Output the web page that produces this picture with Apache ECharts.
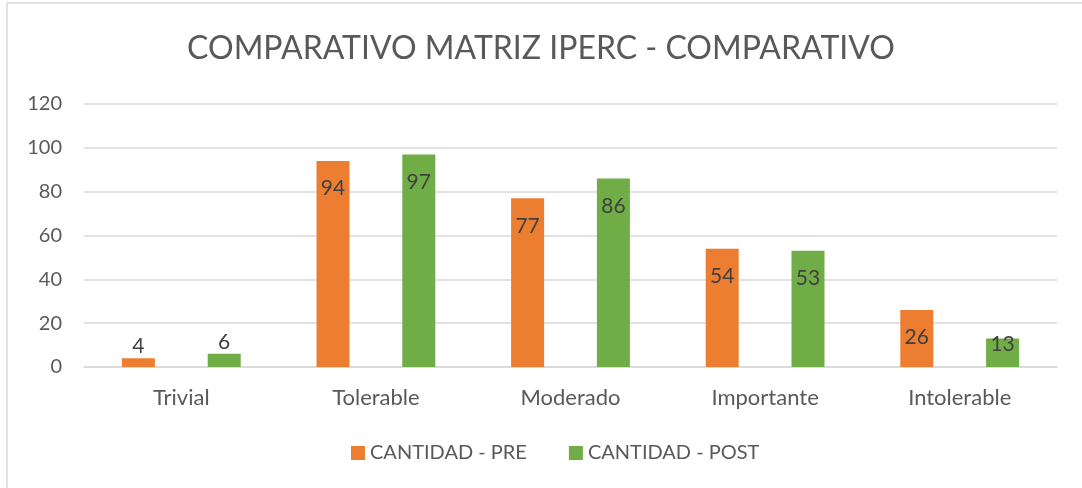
<!DOCTYPE html>
<html>
<head>
<meta charset="utf-8">
<script src="https://cdn.jsdelivr.net/npm/echarts@6/dist/echarts.min.js"></script>
<style>
  html,body{margin:0;padding:0;background:#fff;}
  #chart{width:1082px;height:488px;}
</style>
</head>
<body>
<div id="chart"></div>
<script>
var categories = ['Trivial', 'Tolerable', 'Moderado', 'Importante', 'Intolerable'];
var pre = [4, 94, 77, 54, 26];
var post = [6, 97, 86, 53, 13];
var seriesNames = ['CANTIDAD - PRE', 'CANTIDAD - POST'];

// small values get the label above the bar, like excel does
function toData(arr) {
  return arr.map(function (v) {
    if (v < 10) return { value: v, label: { position: 'top', distance: 1 } };
    if (v < 20) return { value: v, label: { position: 'top', distance: -16 } };
    return v;
  });
}

var myChart = echarts.init(document.getElementById('chart'));
var option = {
  backgroundColor: '#fff',
  textStyle: { fontFamily: 'Lato, sans-serif' },
  title: {
    text: 'COMPARATIVO MATRIZ IPERC - COMPARATIVO',
    left: 'center',
    top: 28,
    textStyle: { fontSize: 32, fontWeight: 'normal', color: '#595959', fontFamily: 'Lato, sans-serif' }
  },
  legend: {
    bottom: 20,
    left: 346,
    itemWidth: 14,
    itemHeight: 14,
    itemGap: 42,
    icon: 'rect',
    textStyle: { fontSize: 20, color: '#595959' },
    data: seriesNames
  },
  grid: { left: 84, right: 25, top: 104, bottom: 121, containLabel: false },
  xAxis: {
    type: 'category',
    data: categories,
    axisLine: { lineStyle: { color: '#d9d9d9', width: 1.5 } },
    axisTick: { show: false },
    axisLabel: { fontSize: 22, color: '#595959', margin: 20 }
  },
  yAxis: {
    type: 'value',
    min: 0,
    max: 120,
    interval: 20,
    axisLine: { show: false },
    axisTick: { show: false },
    splitLine: { lineStyle: { color: '#d9d9d9', width: 1.5 } },
    axisLabel: { fontSize: 20, color: '#595959', margin: 22 }
  },
  series: [{
    name: seriesNames[0],
    type: 'bar',
    data: toData(pre),
    barWidth: 33,
    barGap: '160%',
    itemStyle: { color: '#ed7d31' },
    label: { show: true, position: 'insideTop', distance: 17, fontSize: 21, color: '#404040' }
  }, {
    name: seriesNames[1],
    type: 'bar',
    data: toData(post),
    barWidth: 33,
    barGap: '160%',
    itemStyle: { color: '#70ad47' },
    label: { show: true, position: 'insideTop', distance: 17, fontSize: 21, color: '#404040' }
  }],
  graphic: [{
    type: 'rect',
    shape: { x: 7, y: 3, width: 1080, height: 490 },
    style: { fill: 'none', stroke: '#d9d9d9', lineWidth: 1.5 },
    silent: true
  }]
};
myChart.setOption(option);
</script>
</body>
</html>
